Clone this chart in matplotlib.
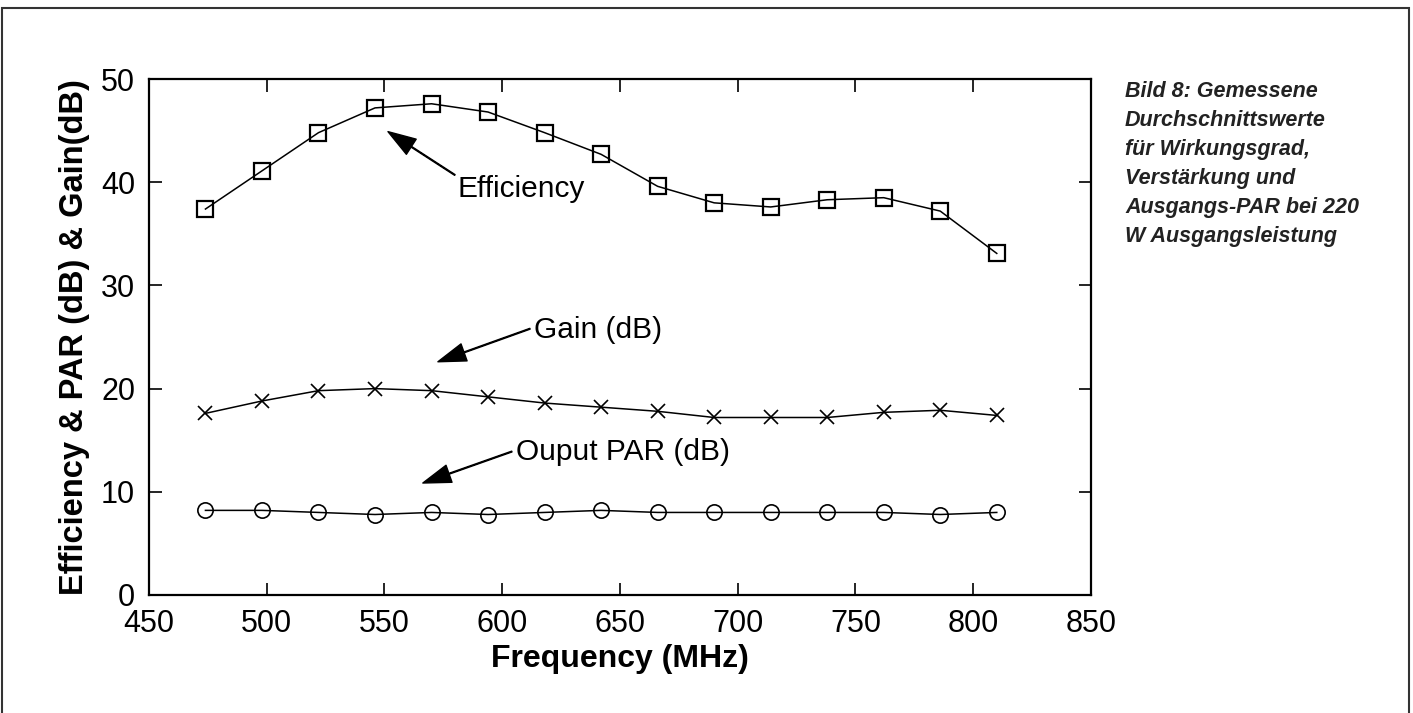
import matplotlib
matplotlib.use('Agg')
import matplotlib.pyplot as plt
from matplotlib.patches import Rectangle

plt.rcParams['font.family'] = ['Liberation Sans', 'DejaVu Sans']

freq = [474, 498, 522, 546, 570, 594, 618, 642, 666, 690, 714, 738, 762, 786, 810]
efficiency = [37.4, 41.1, 44.8, 47.2, 47.6, 46.8, 44.8, 42.7, 39.6, 38.0, 37.6, 38.3, 38.5, 37.2, 33.1]
gain = [17.6, 18.8, 19.8, 20.0, 19.8, 19.2, 18.6, 18.2, 17.8, 17.2, 17.2, 17.2, 17.7, 17.9, 17.4]
par = [8.2, 8.2, 8.0, 7.8, 8.0, 7.8, 8.0, 8.2, 8.0, 8.0, 8.0, 8.0, 8.0, 7.8, 8.0]

xticks = [450, 500, 550, 600, 650, 700, 750, 800, 850]
yticks = [0, 10, 20, 30, 40, 50]

caption = ('Bild 8: Gemessene\nDurchschnittswerte\nfür Wirkungsgrad,\n'
           'Verstärkung und\nAusgangs-PAR bei 220\nW Ausgangsleistung')

fig = plt.figure(figsize=(14.13, 7.13), dpi=100)
ax = fig.add_axes([0.1054, 0.1655, 0.6667, 0.7237])

ax.plot(freq, efficiency, color='black', lw=1.1, marker='s', ms=11, mfc='none', mew=1.6)
ax.plot(freq, gain, color='black', lw=1.1, marker='x', ms=10, mew=1.2)
ax.plot(freq, par, color='black', lw=1.1, marker='o', ms=11, mfc='none', mew=1.2)

ax.set_xlim(450, 850)
ax.set_ylim(0, 50)
ax.set_xticks(xticks)
ax.set_yticks(yticks)
ax.tick_params(direction='in', length=9, width=1.2, top=True, right=True,
               labelsize=22, pad=10)
for s in ax.spines.values():
    s.set_linewidth(1.6)

ax.set_xlabel('Frequency (MHz)', fontsize=23, fontweight='bold', labelpad=4)
ax.set_ylabel('Efficiency & PAR (dB) & Gain(dB)', fontsize=23.5, fontweight='bold', labelpad=8)

# annotations with arrows
arrow = dict(facecolor='black', edgecolor='black', width=0.6, headwidth=13,
             headlength=20, shrink=0.0)
ax.annotate('', xy=(551.5, 44.9), xytext=(579.9, 40.7), arrowprops=arrow)
ax.text(581.2, 39.3, 'Efficiency', fontsize=21.5, ha='left', va='center')

ax.annotate('', xy=(572.7, 22.6), xytext=(611.8, 25.8), arrowprops=arrow)
ax.text(613.5, 25.7, 'Gain (dB)', fontsize=21.5, ha='left', va='center')

ax.annotate('', xy=(566.3, 10.85), xytext=(604.1, 13.9), arrowprops=arrow)
ax.text(605.8, 13.9, 'Ouput PAR (dB)', fontsize=21.5, ha='left', va='center')

fig.text(1125 / 1413, 1 - 81 / 713, caption, fontsize=15.5, fontweight='bold',
         fontstyle='italic', ha='left', va='top', linespacing=1.5, color='#222222')

# outer frame
fig.patches.append(Rectangle((2 / 1413, -0.01), 1407 / 1413, 1 - 8 / 713 + 0.01,
                             transform=fig.transFigure, fill=False,
                             edgecolor='#333333', lw=1.5))

fig.savefig('out.png', dpi=100)
